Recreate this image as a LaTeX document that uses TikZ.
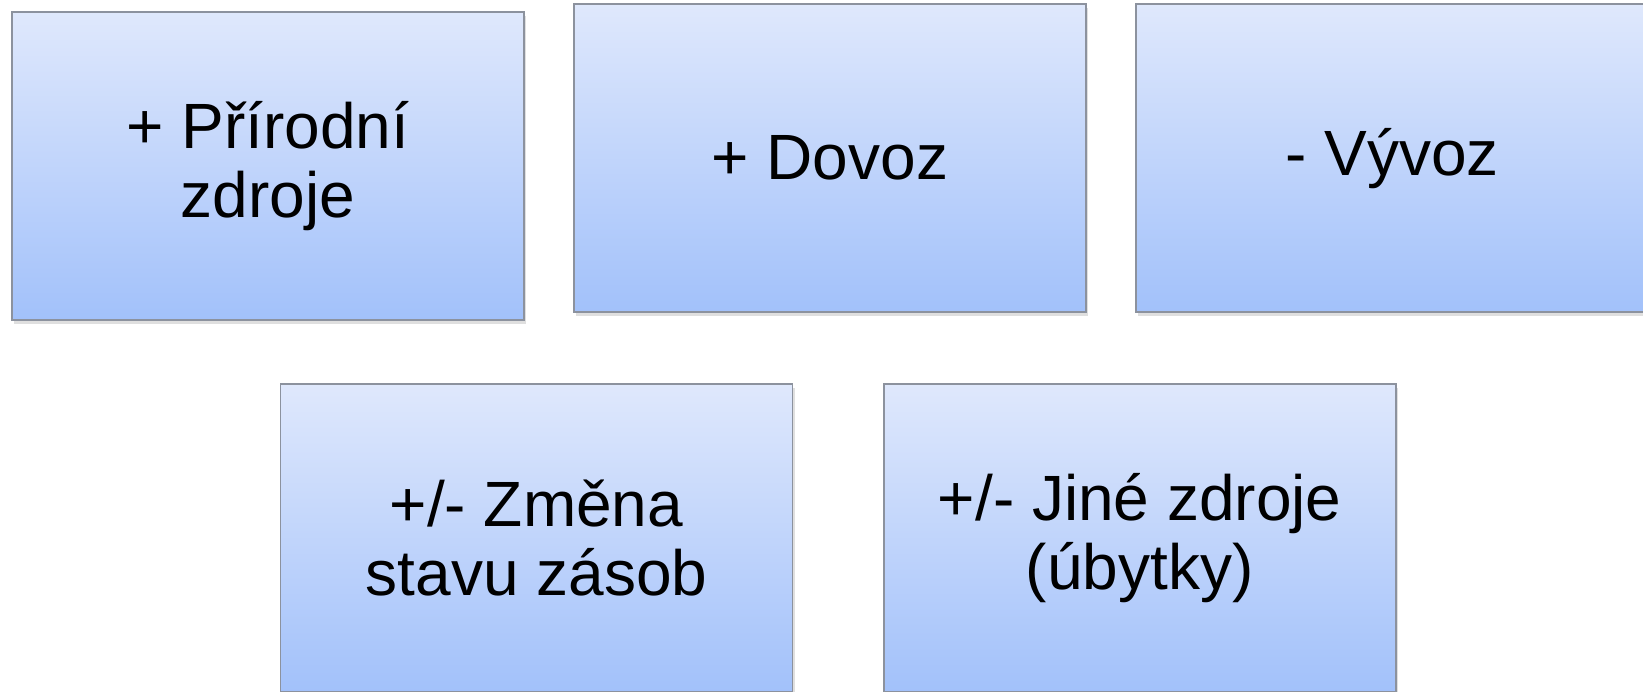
\documentclass[tikz,border=0pt]{standalone}
\usepackage{fontspec}
\setmainfont{Liberation Sans}
\usetikzlibrary{shadows}
\definecolor{boxtop}{RGB}{223,232,252}
\definecolor{boxbot}{RGB}{162,193,250}
\definecolor{boxline}{RGB}{140,146,158}
\tikzset{
  box/.style={draw=boxline, line width=1.6pt, top color=boxtop, bottom color=boxbot,
    minimum width=512pt, minimum height=308pt, inner sep=0pt, align=center,
    font=\fontsize{64}{69}\selectfont,
    drop shadow={shadow xshift=2pt, shadow yshift=-4pt, opacity=0.25}}
}
\begin{document}
\begin{tikzpicture}[x=1pt,y=-1pt]
\useasboundingbox (0,0) rectangle (1643,691);
\node[box] (b1) at (267.7,166.2) {+ Přírodní\\zdroje};
\node[box] (b2) at (829.9,158.2) {+ Dovoz};
\node[box] (b3) at (1392.2,158.2) {- Vývoz};
\node[box] (b4) at (536.5,538) {+/- Změna\\stavu zásob};
\node[box] (b5) at (1139.7,538) {+/- Jiné zdroje\\(úbytky)};
\end{tikzpicture}
\end{document}
